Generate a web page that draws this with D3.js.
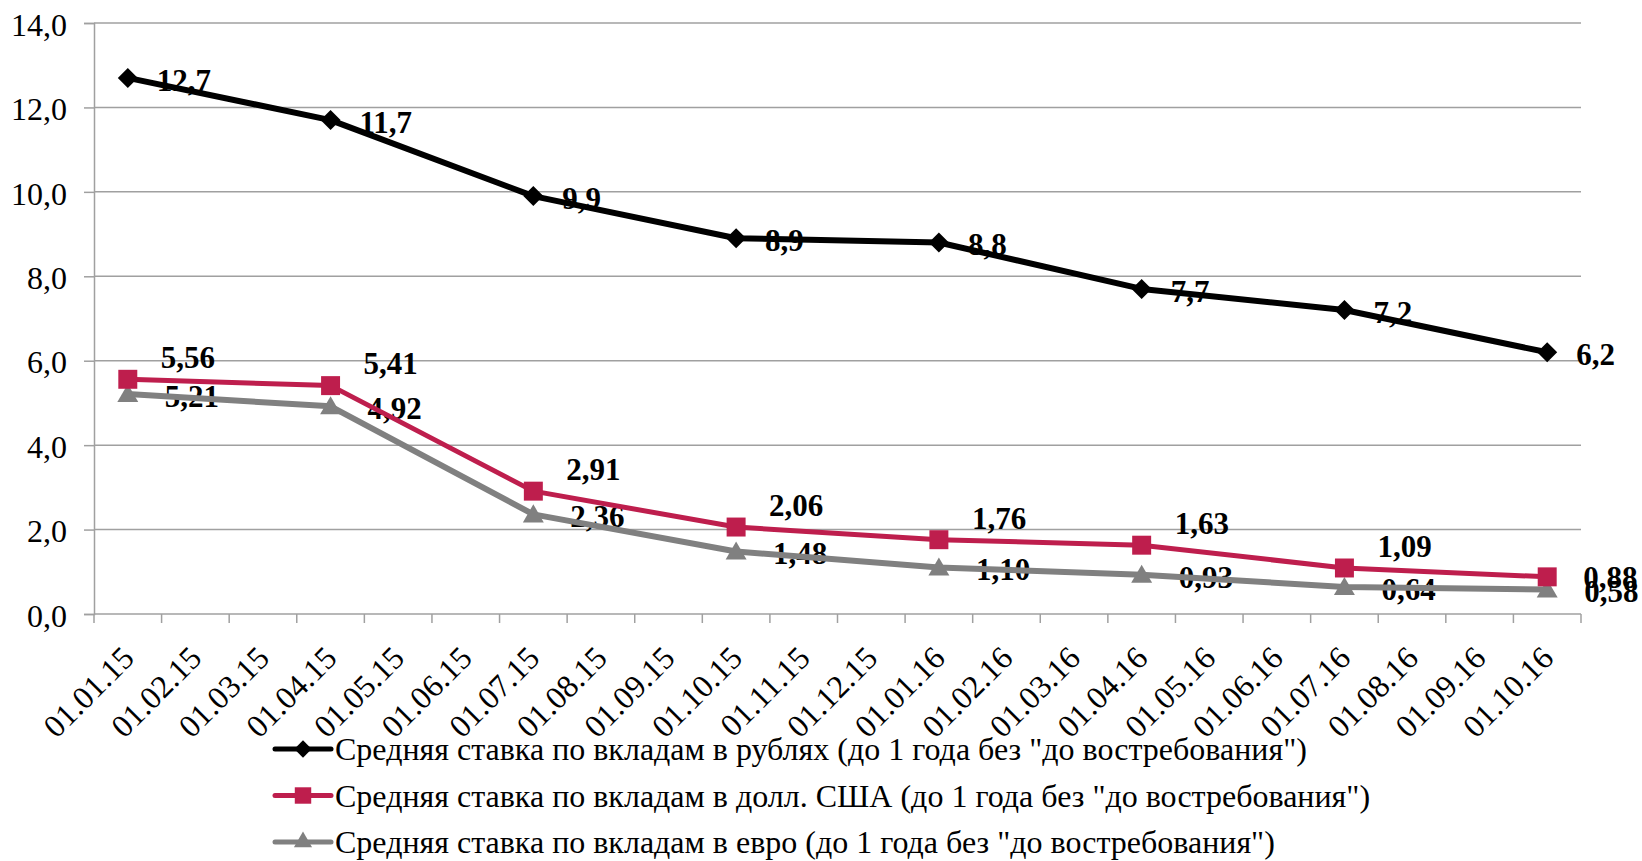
<!DOCTYPE html>
<html>
<head>
<meta charset="UTF-8">
<script src="https://d3js.org/d3.v7.min.js"></script>
<style>
  body { margin: 0; background: #fff; }
  text { font-family: "Liberation Serif", "Times New Roman", serif; fill: #000; }
</style>
</head>
<body>
<div id="chart"></div>
<script>
// month labels on the category axis
var months = ["01.01.15", "01.02.15", "01.03.15", "01.04.15", "01.05.15", "01.06.15",
  "01.07.15", "01.08.15", "01.09.15", "01.10.15", "01.11.15", "01.12.15",
  "01.01.16", "01.02.16", "01.03.16", "01.04.16", "01.05.16", "01.06.16",
  "01.07.16", "01.08.16", "01.09.16", "01.10.16"];

// dates that carry data (quarterly)
var pointDates = ["01.01.15", "01.04.15", "01.07.15", "01.10.15",
  "01.01.16", "01.04.16", "01.07.16", "01.10.16"];

var rub = [12.7, 11.7, 9.9, 8.9, 8.8, 7.7, 7.2, 6.2];
var usd = [5.56, 5.41, 2.91, 2.06, 1.76, 1.63, 1.09, 0.88];
var eur = [5.21, 4.92, 2.36, 1.48, 1.10, 0.93, 0.64, 0.58];

var yTicks = [0, 2, 4, 6, 8, 10, 12, 14];

var seriesNames = [
  'Средняя ставка по вкладам в рублях (до 1 года без "до востребования")',
  'Средняя ставка по вкладам в долл. США (до 1 года без "до востребования")',
  'Средняя ставка по вкладам в евро (до 1 года без "до востребования")'
];

var W = 1642, H = 861;
var mLeft = 94, mRight = 1581, mTop = 23, mBottom = 614;

var svg = d3.select("#chart").append("svg")
  .attr("width", W).attr("height", H);

var x = d3.scaleBand().domain(months).range([mLeft, mRight]).padding(0);
var y = d3.scaleLinear().domain([0, 14]).range([mBottom, mTop]);
var cx = d => x(d) + x.bandwidth() / 2;

var fmt1 = d => d3.format(".1f")(d).replace(".", ",");
var fmt2 = d => d3.format(".2f")(d).replace(".", ",");

// gridlines
svg.append("g").selectAll("line")
  .data(yTicks.filter(d => d > 0))
  .enter().append("line")
  .attr("x1", mLeft).attr("x2", mRight)
  .attr("y1", d => y(d)).attr("y2", d => y(d))
  .attr("stroke", "#a0a0a0").attr("stroke-width", 1.5);

// y axis
var yAxis = svg.append("g")
  .attr("transform", "translate(" + mLeft + ",0)")
  .call(d3.axisLeft(y).tickValues(yTicks).tickSize(10).tickFormat(fmt1));
yAxis.select(".domain").attr("stroke", "#a0a0a0").attr("stroke-width", 1.5);
yAxis.selectAll(".tick line").attr("stroke", "#a0a0a0").attr("stroke-width", 1.5);
yAxis.selectAll(".tick text")
  .attr("x", -27).attr("dy", "0.38em")
  .style("font-size", "32px").style("font-family", '"Liberation Serif", serif').attr("fill", "#000");

// x axis with ticks between categories
svg.append("line")
  .attr("x1", mLeft).attr("x2", mRight)
  .attr("y1", mBottom).attr("y2", mBottom)
  .attr("stroke", "#a0a0a0").attr("stroke-width", 1.5);
svg.append("g").selectAll("line")
  .data(months.concat(["end"]))
  .enter().append("line")
  .attr("x1", (d, i) => mLeft + i * x.bandwidth())
  .attr("x2", (d, i) => mLeft + i * x.bandwidth())
  .attr("y1", mBottom).attr("y2", mBottom + 9)
  .attr("stroke", "#a0a0a0").attr("stroke-width", 1.5);

svg.append("g").selectAll("text")
  .data(months)
  .enter().append("text")
  .attr("transform", d => "translate(" + (cx(d) + 8) + "," + (mBottom + 46) + ") rotate(-45)")
  .attr("text-anchor", "end")
  .style("font-size", "32px")
  .text(d => d);

// series
var series = [
  {name: seriesNames[0], values: rub, color: "#000000", width: 6, marker: d3.symbolSquare, rot: 45, msize: 200, fmt: fmt1, dx: 29, dy: 2},
  {name: seriesNames[1], values: usd, color: "#be1e4d", width: 5, marker: d3.symbolSquare, rot: 0, msize: 360, fmt: fmt2, dx: 33, dy: -22},
  {name: seriesNames[2], values: eur, color: "#808080", width: 6, marker: d3.symbolTriangle, rot: 0, msize: 190, fmt: fmt2, dx: 37, dy: 2}
];

var line = d3.line()
  .x((d, i) => cx(pointDates[i]))
  .y(d => y(d));

// data labels (drawn under the lines)
series.forEach(function (s, k) {
  var last = s.values.length - 1;
  svg.append("g").selectAll("text")
    .data(s.values)
    .enter().append("text")
    .attr("x", (d, i) => cx(pointDates[i]) + (k == 1 && i == last ? 36 : s.dx))
    .attr("y", (d, i) => y(d) + (k == 1 && i == last ? 0 : s.dy))
    .attr("dy", "0.35em")
    .style("font-size", "31px")
    .style("font-weight", "bold")
    .text(d => s.fmt(d));
});

series.slice().reverse().forEach(function (s) {
  svg.append("path")
    .datum(s.values)
    .attr("d", line)
    .attr("fill", "none")
    .attr("stroke", s.color)
    .attr("stroke-width", s.width)
    .attr("stroke-linejoin", "round");
  svg.append("g").selectAll("path")
    .data(s.values)
    .enter().append("path")
    .attr("transform", (d, i) => "translate(" + cx(pointDates[i]) + "," + (y(d) + (s.marker === d3.symbolTriangle ? 2 : 0)) + ") rotate(" + s.rot + ")")
    .attr("d", d3.symbol().type(s.marker).size(s.msize))
    .attr("fill", s.color);
});

// legend
var lg = svg.append("g").selectAll("g")
  .data(series)
  .enter().append("g")
  .attr("transform", (d, i) => "translate(275," + (749 + i * 46.5) + ")");
lg.append("line")
  .attr("x1", 0).attr("x2", 56)
  .attr("stroke", d => d.color).attr("stroke-width", 5)
  .attr("stroke-linecap", "round");
lg.append("path")
  .attr("transform", d => "translate(28,0) rotate(" + d.rot + ")")
  .attr("d", d => d3.symbol().type(d.marker).size(d.msize * 0.75)())
  .attr("fill", d => d.color);
lg.append("text")
  .attr("x", 60).attr("dy", "0.35em")
  .style("font-size", "32px")
  .text(d => d.name);
</script>
</body>
</html>
